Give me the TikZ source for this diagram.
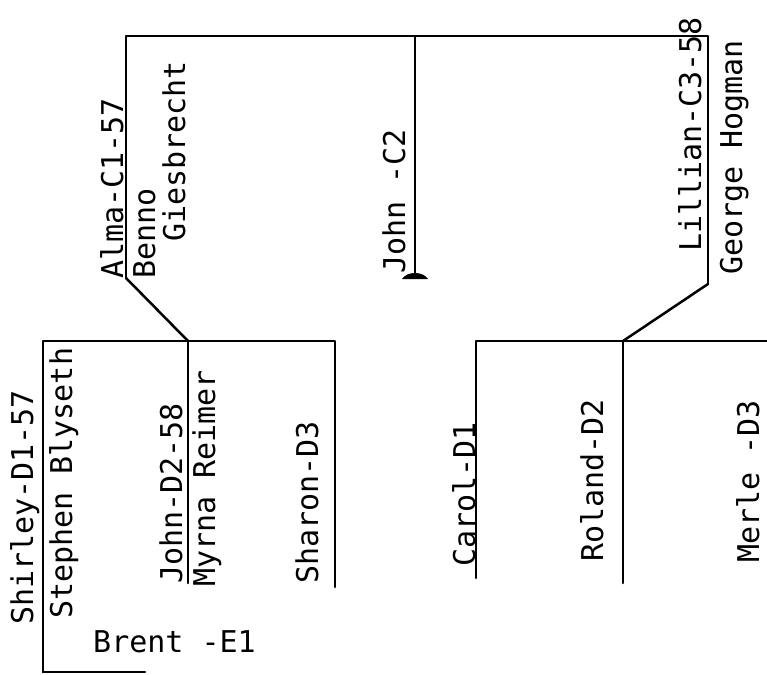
\documentclass[tikz,border=0pt]{standalone}
\usepackage{fontspec}
\setmonofont{DejaVu Sans Mono}
\usepackage{tikz}
\usetikzlibrary{positioning}
\tikzstyle{up} = [rotate=90, anchor=base west, inner sep=0pt]
\tikzstyle{tie} = [-, line width=2.5pt, line cap=round, line join=round]

\begin{document}
\begin{tikzpicture}[x=1pt, y=-1pt, font=\ttfamily\fontsize{30}{32}\selectfont]
\useasboundingbox (0,0) rectangle (767,674);
% generation C
\coordinate (AT) at (126,36);
\coordinate (AB) at (126,278);
\coordinate (JT) at (415,36);
\coordinate (JB) at (415,277);
\coordinate (LT) at (708,36);
\coordinate (LB) at (708,284);
\node [up] (Alma) at (123,279) {Alma-C1-57};
\node [up] (Benno) at (155,279) {Benno};
\node [up] (Gies) at (185,242) {Giesbrecht};
\node [up] (JohnC) at (405,274) {John -C2};
\node [up] (Lill) at (701,252) {Lillian-C3-58};
\node [up] (George) at (742,275) {George Hogman};
\draw [tie] (AB) -- (AT) -- (LT) -- (LB);
\draw [tie] (JT) -- (JB);
\fill (402,279) .. controls (407,271) and (423,271) .. (428,279) -- cycle;
% generation D, left
\coordinate (SH) at (43,341);
\coordinate (SB) at (43,672);
\coordinate (EB) at (145,672);
\coordinate (JD) at (188,341);
\coordinate (JE) at (188,583);
\coordinate (RD) at (335,341);
\coordinate (RE) at (335,587);
\node [up] (Shirley) at (33,625) {Shirley-D1-57};
\node [up] (Stephen) at (72,619) {Stephen Blyseth};
\node [up] (JohnD) at (182,584) {John-D2-58};
\node [up] (Myrna) at (215,587) {Myrna Reimer};
\node [up] (Sharon) at (318,584) {Sharon-D3};
\node [inner sep=0pt, anchor=base west] (Brent) at (93,652) {Brent -E1};
\draw [tie] (AB) -- (JD);
\draw [tie] (SB) -- (SH) -- (RD) -- (RE);
\draw [tie] (JD) -- (JE);
\draw [tie] (SB) -- (EB);
% generation D, right
\coordinate (CD) at (476,341);
\coordinate (CE) at (476,578);
\coordinate (OD) at (623,341);
\coordinate (OE) at (623,583);
\coordinate (ME) at (767,341);
\node [up] (Carol) at (475,567) {Carol-D1};
\node [up] (Roland) at (603,562) {Roland-D2};
\node [up] (Merle) at (759,563) {Merle -D3};
\draw [tie] (LB) -- (OD);
\draw [tie] (CE) -- (CD) -- (ME);
\draw [tie] (OD) -- (OE);
\end{tikzpicture}
\end{document}
